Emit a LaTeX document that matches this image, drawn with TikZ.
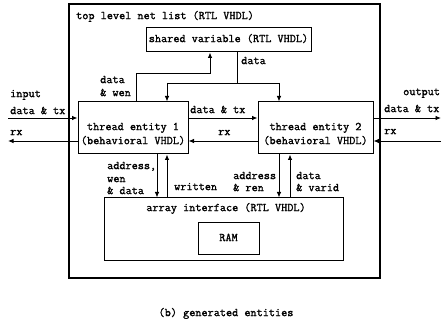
\documentclass[tikz,border=0pt]{standalone}
\usepackage{fontspec}
\newfontfamily\diagfont{Latin Modern Mono}[FakeBold=1.3]
\usetikzlibrary{arrows.meta,calc}
\begin{document}
\begin{tikzpicture}[x=1pt,y=-1pt,
  font=\diagfont\fontsize{11.9}{14}\selectfont,
  box/.style={draw,line width=1pt,inner sep=0pt},
  arr/.style={line width=0.9pt,-{Latex[length=5.5pt,width=4.5pt]}},
  wire/.style={line width=0.9pt},
  lbl/.style={anchor=mid west,inner sep=0pt},
  ctr/.style={anchor=mid,inner sep=0pt}]
\useasboundingbox (0,0) rectangle (442,323);
% boxes
\node[box,line width=1.2pt,minimum width=311pt,minimum height=274pt] (top) at (224.5,141) {};
\node[box,minimum width=165pt,minimum height=24pt] (sv) at (228.5,40) {};
\node[box,minimum width=110pt,minimum height=52pt] (t1) at (133,128) {};
\node[box,minimum width=115pt,minimum height=52pt] (t2) at (315.5,128) {};
\node[box,minimum width=239pt,minimum height=63pt] (ai) at (223.5,229.5) {};
\node[box,minimum width=61pt,minimum height=32pt] (ram) at (228.5,239) {};
% box texts
\node[lbl] (toptxt) at (76,17) {top level net list (RTL VHDL)};
\node[ctr] (svtxt) at (sv.center) {shared variable (RTL VHDL)};
\node[ctr] (t1a) at (133,128) {thread entity 1};
\node[ctr] (t1b) at (133,142) {(behavioral VHDL)};
\node[ctr] (t2a) at (315.5,128) {thread entity 2};
\node[ctr] (t2b) at (315.5,142) {(behavioral VHDL)};
\node[ctr] (aitxt) at (226,209) {array interface (RTL VHDL)};
\node[ctr] (ramtxt) at (ram.center) {RAM};
% coordinates
\coordinate (a1) at (136,73);
\coordinate (a2) at (210,73);
\coordinate (d0) at (237,83);
\coordinate (dl) at (167,83);
\coordinate (dr) at (279,83);
\coordinate (ytx) at (0,118);
\coordinate (yrx) at (0,141);
\coordinate (inL) at (8,118);
\coordinate (rxL) at (8,141);
\coordinate (outR) at (441,118);
\coordinate (rxR) at (441,141);
\coordinate (b1) at (157,0);
\coordinate (b2) at (167,0);
\coordinate (b3) at (279,0);
\coordinate (b4) at (290,0);
% connectors
\draw[arr] (t1.north -| a1) -- (a1) -- (a2) -- (sv.south -| a2);
\draw[wire] (sv.south -| d0) -- (d0);
\draw[wire] (dl) -- (dr);
\draw[arr] (dl) -- (t1.north -| dl);
\draw[arr] (dr) -- (t2.north -| dr);
\draw[arr] (t1.east |- ytx) -- (t2.west |- ytx);
\draw[arr] (t2.west |- yrx) -- (t1.east |- yrx);
\draw[arr] (inL) -- (t1.west |- inL);
\draw[arr] (t1.west |- rxL) -- (rxL);
\draw[arr] (t2.east |- outR) -- (outR);
\draw[arr] (rxR) -- (t2.east |- rxR);
\draw[arr] (t1.south -| b1) -- (ai.north -| b1);
\draw[arr] (ai.north -| b2) -- (t1.south -| b2);
\draw[arr] (t2.south -| b3) -- (ai.north -| b3);
\draw[arr] (ai.north -| b4) -- (t2.south -| b4);
% labels
\node[lbl] (l1) at (10,95) {input};
\node[lbl] (l2) at (10,112) {data \& tx};
\node[lbl] (l3) at (10,133) {rx};
\node[lbl] (l4) at (403,93) {output};
\node[lbl] (l5) at (384,110) {data \& tx};
\node[lbl] (l6) at (384,132) {rx};
\node[lbl] (l7) at (190,111) {data \& tx};
\node[lbl] (l8) at (218,133) {rx};
\node[lbl] (l9) at (100,81) {data};
\node[lbl] (l10) at (100,94) {\& wen};
\node[lbl] (l11) at (241,62) {data};
\node[lbl] (l12) at (107,167) {address,};
\node[lbl] (l13) at (107,180) {wen};
\node[lbl] (l14) at (107,192) {\& data};
\node[lbl] (l15) at (174,188) {written};
\node[lbl] (l16) at (233,177) {address};
\node[lbl] (l17) at (233,189) {\& ren};
\node[lbl] (l18) at (296,177) {data};
\node[lbl] (l19) at (296,189) {\& varid};
\node[ctr] (cap) at (226,314) {(b) generated entities};
\end{tikzpicture}
\end{document}
